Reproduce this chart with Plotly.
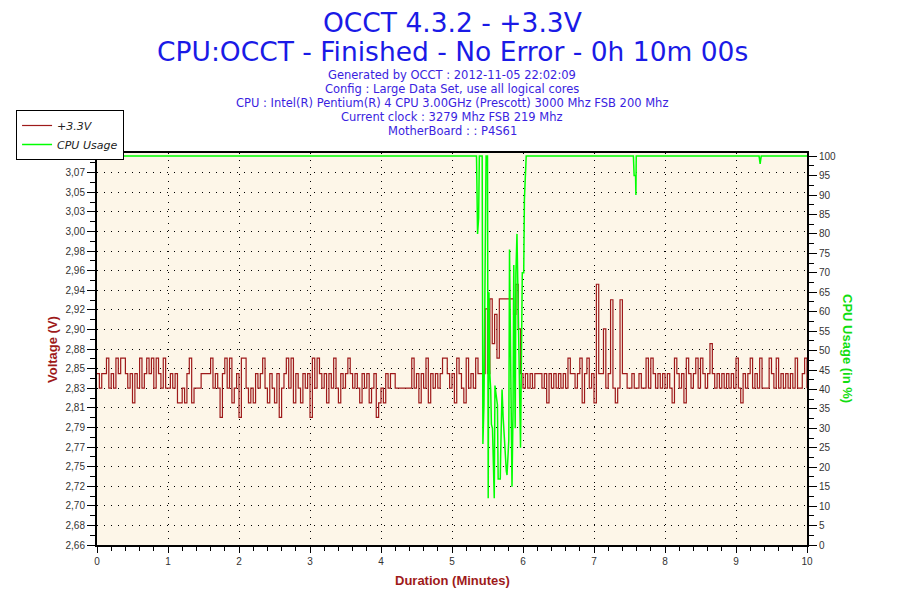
import plotly.graph_objects as go

# Voltage samples (every 2 s over 10 minutes)
sample_seconds = list(range(0, 601, 2))
voltage = [
    2.848, 2.832, 2.848, 2.848, 2.865, 2.832, 2.848, 2.832, 2.865, 2.848,
    2.865, 2.865, 2.848, 2.832, 2.848, 2.816, 2.848, 2.832, 2.865, 2.832,
    2.848, 2.865, 2.848, 2.865, 2.832, 2.865, 2.848, 2.832, 2.865, 2.832,
    2.832, 2.848, 2.832, 2.848, 2.816, 2.816, 2.832, 2.816, 2.848, 2.865,
    2.816, 2.832, 2.832, 2.832, 2.848, 2.848, 2.848, 2.848, 2.865, 2.832,
    2.848, 2.832, 2.800, 2.848, 2.865, 2.832, 2.865, 2.816, 2.832, 2.848,
    2.800, 2.865, 2.865, 2.832, 2.816, 2.832, 2.816, 2.848, 2.832, 2.848,
    2.865, 2.832, 2.816, 2.848, 2.832, 2.816, 2.848, 2.800, 2.832, 2.848,
    2.865, 2.832, 2.865, 2.816, 2.848, 2.832, 2.816, 2.848, 2.832, 2.848,
    2.800, 2.865, 2.832, 2.865, 2.848, 2.832, 2.848, 2.816, 2.848, 2.832,
    2.865, 2.832, 2.816, 2.848, 2.832, 2.848, 2.865, 2.848, 2.832, 2.848,
    2.832, 2.816, 2.848, 2.832, 2.848, 2.816, 2.832, 2.848, 2.800, 2.816,
    2.832, 2.816, 2.848, 2.832, 2.848, 2.848, 2.832, 2.832, 2.832, 2.832,
    2.832, 2.832, 2.832, 2.865, 2.832, 2.848, 2.816, 2.848, 2.832, 2.865,
    2.816, 2.848, 2.832, 2.848, 2.832, 2.848, 2.865, 2.865, 2.848, 2.832,
    2.848, 2.816, 2.865, 2.848, 2.832, 2.816, 2.865, 2.832, 2.848, 2.832,
    2.865, 2.848, 2.848, 2.848, 2.919, 2.848, 2.930, 2.881, 2.913, 2.865,
    2.930, 2.930, 2.930, 2.930, 2.930, 2.930, 2.913, 2.946, 2.897, 2.848,
    2.832, 2.848, 2.832, 2.848, 2.832, 2.848, 2.848, 2.848, 2.832, 2.848,
    2.816, 2.848, 2.832, 2.848, 2.832, 2.848, 2.832, 2.848, 2.832, 2.865,
    2.848, 2.848, 2.832, 2.848, 2.865, 2.816, 2.848, 2.865, 2.832, 2.848,
    2.816, 2.946, 2.848, 2.848, 2.897, 2.832, 2.848, 2.929, 2.832, 2.816,
    2.832, 2.929, 2.848, 2.848, 2.832, 2.832, 2.848, 2.832, 2.832, 2.848,
    2.832, 2.832, 2.865, 2.832, 2.865, 2.848, 2.832, 2.848, 2.832, 2.848,
    2.832, 2.848, 2.832, 2.816, 2.865, 2.848, 2.832, 2.848, 2.816, 2.865,
    2.848, 2.832, 2.848, 2.865, 2.832, 2.865, 2.848, 2.832, 2.848, 2.881,
    2.848, 2.832, 2.848, 2.832, 2.848, 2.832, 2.848, 2.832, 2.848, 2.832,
    2.865, 2.832, 2.816, 2.848, 2.832, 2.848, 2.865, 2.832, 2.848, 2.832,
    2.865, 2.832, 2.832, 2.832, 2.865, 2.848, 2.832, 2.865, 2.832, 2.848,
    2.832, 2.848, 2.832, 2.848, 2.832, 2.865, 2.832, 2.832, 2.848, 2.865,
    2.832,
]

# CPU usage breakpoints (minutes, %)
cpu_minutes = [0, 5.345, 5.35, 5.36, 5.375, 5.385, 5.425, 5.435, 5.45, 5.465,
               5.48, 5.50, 5.51, 5.52, 5.53, 5.545, 5.555, 5.57, 5.58, 5.595,
               5.605, 5.625, 5.64, 5.65, 5.68, 5.685, 5.705, 5.72, 5.735, 5.755,
               5.765, 5.775, 5.79, 5.80, 5.81, 5.825, 5.845, 5.86, 5.87, 5.89,
               5.90, 5.915, 5.93, 5.95, 5.965, 5.99, 6.01, 6.02, 6.035, 6.045,
               7.555, 7.565, 7.585, 7.59, 7.595, 9.325, 9.34, 9.355, 10]
cpu_usage = [100, 100, 94, 80, 84, 100, 100, 26, 36, 60,
             100, 100, 12, 65, 45, 40, 31, 30, 22, 12,
             41, 38, 36, 17, 17, 23, 40, 33, 27, 20,
             19, 18, 22, 27, 76, 45, 15, 35, 72, 30,
             70, 80, 60, 38, 25, 70, 70, 89, 94, 100,
             100, 95, 95, 90, 100, 100, 98, 100, 100]

# left axis ticks (20 intervals between 2.66 and 3.09)
volt_tickvals = [2.66, 2.6815, 2.703, 2.7245, 2.746, 2.7675, 2.789, 2.8105, 2.832, 2.8535,
                 2.875, 2.8965, 2.918, 2.9395, 2.961, 2.9825, 3.004, 3.0255, 3.047, 3.0685, 3.09]
volt_ticktext = ["2,66", "2,68", "2,70", "2,72", "2,75", "2,77", "2,79", "2,81", "2,83", "2,85",
                 "2,88", "2,90", "2,92", "2,94", "2,96", "2,98", "3,00", "3,03", "3,05", "3,07", "3,09"]

header_lines = [
    "Generated by OCCT : 2012-11-05 22:02:09",
    "Config : Large Data Set, use all logical cores",
    "CPU : Intel(R) Pentium(R) 4 CPU 3.00GHz (Prescott) 3000 Mhz FSB 200 Mhz",
    "Current clock : 3279 Mhz FSB 219 Mhz",
    "MotherBoard : : P4S61",
]

RED = "#9e1a1a"
GREEN = "#00ff00"
FONT = "DejaVu Sans"
AXFONT = "Liberation Sans"

minutes = [s / 60 for s in sample_seconds]

fig = go.Figure()
fig.add_trace(go.Scatter(x=cpu_minutes, y=cpu_usage, name="CPU Usage", yaxis="y2",
                         mode="lines", line=dict(color=GREEN, width=1.5), legendrank=2))
fig.add_trace(go.Scatter(x=minutes, y=voltage, name="+3.3V", mode="lines",
                         line=dict(color=RED, width=1.2, shape="hv"), legendrank=1))

annotations = [
    dict(text="OCCT 4.3.2 - +3.3V", x=0.5, y=1.334,
         font=dict(family=FONT, size=26.5, color="#1a1ae6")),
    dict(text="CPU:OCCT - Finished - No Error - 0h 10m 00s", x=0.5, y=1.2602,
         font=dict(family=FONT, size=26.5, color="#1a1ae6")),
]
for i, line in enumerate(header_lines):
    annotations.append(dict(text=line, x=0.5, y=1.199 - i * 0.0357,
                            font=dict(family=FONT, size=11.5, color="#3a1ee0")))
annotations += [
    dict(text="<b>Voltage (V)</b>", x=-0.0634, y=0.5, textangle=-90,
         font=dict(family=AXFONT, size=13, color=RED)),
    dict(text="<b>CPU Usage (in %)</b>", x=1.0577, y=0.5, textangle=90,
         font=dict(family=AXFONT, size=13, color="#11dd11")),
    dict(text="<b>Duration (Minutes)</b>", x=0.5, y=-0.0913,
         font=dict(family=AXFONT, size=13, color=RED)),
]
for a in annotations:
    a.update(xref="paper", yref="paper", showarrow=False, xanchor="center", yanchor="middle")

fig.update_layout(
    width=900, height=600,
    margin=dict(l=89, r=101, t=145, b=63, autoexpand=False),
    paper_bgcolor="white",
    plot_bgcolor="#fdf6e8",
    font=dict(family=AXFONT, size=10, color="#333333"),
    annotations=annotations,
    showlegend=True,
    legend=dict(x=-0.114, y=1.1097, xanchor="left", yanchor="top",
                bgcolor="white", bordercolor="black", borderwidth=1,
                font=dict(family=FONT, size=11, color="#222222", style="italic"),
                itemwidth=30, tracegroupgap=0),
    xaxis=dict(range=[0, 10], dtick=1, tick0=0, showline=True, linecolor="black",
               linewidth=2, mirror=True, ticks="outside", ticklen=6, tickcolor="black",
               minor=dict(dtick=0.2, ticks="outside", ticklen=4, tickcolor="black"),
               showgrid=True, gridcolor="black", gridwidth=1, griddash="1px,6px",
               zeroline=False, automargin=False),
    yaxis=dict(range=[2.66, 3.09], tickmode="array", tickvals=volt_tickvals,
               ticktext=volt_ticktext, showline=True, linecolor="black", linewidth=2,
               ticks="outside", ticklen=8, tickcolor="black",
               minor=dict(tickmode="linear", tick0=2.66, dtick=0.01075, ticks="outside",
                          ticklen=5, tickcolor="black"),
               showgrid=True, gridcolor="black", gridwidth=1, griddash="1px,6px",
               zeroline=False, automargin=False),
    yaxis2=dict(range=[0, 100.8], tickmode="linear", tick0=0, dtick=5, overlaying="y",
                side="right", showline=True,
                linecolor="black", linewidth=2, ticks="outside", ticklen=8,
                tickcolor="black",
                minor=dict(tickmode="linear", tick0=0, dtick=2.5, ticks="outside",
                           ticklen=5, tickcolor="black"),
                showgrid=False, zeroline=False, automargin=False),
)

fig.write_html("out.html")
